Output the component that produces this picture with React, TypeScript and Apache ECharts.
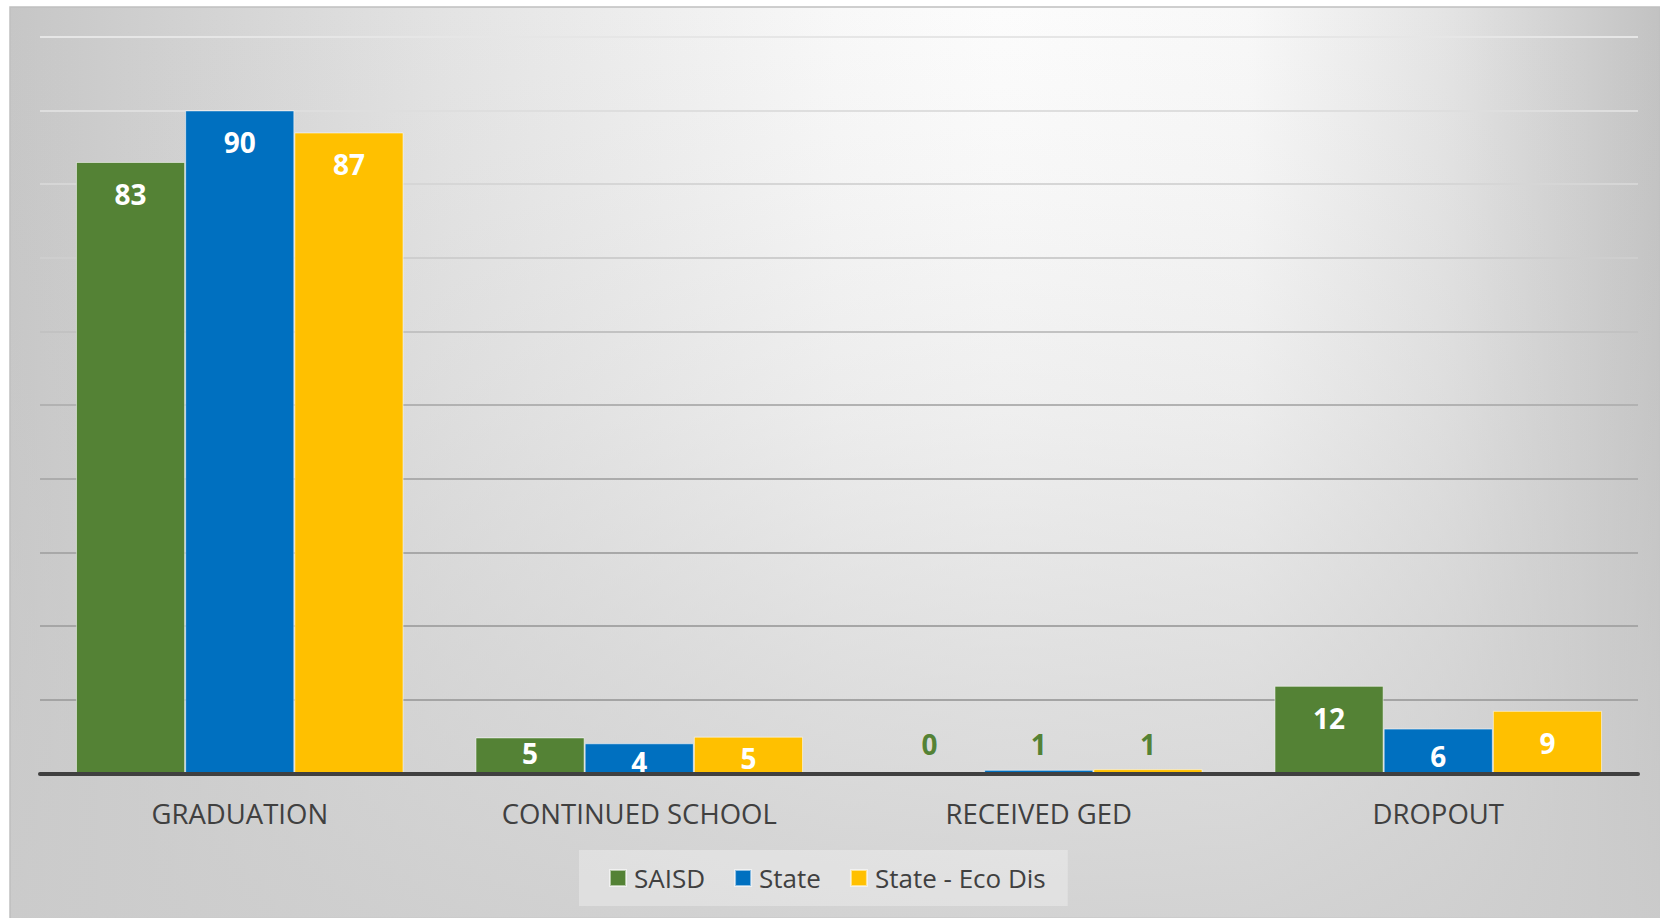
import React, { useEffect, useRef } from "react";
import * as echarts from "echarts";

const categories = ["GRADUATION", "CONTINUED SCHOOL", "RECEIVED GED", "DROPOUT"];
const seriesNames = ["SAISD", "State", "State - Eco Dis"];
const saisd = [83, 4.9, 0, 11.9];
const state = [90, 4.1, 0.5, 6.1];
const stateEcoDis = [87, 5, 0.6, 8.5];
const yMin = 0;
const yMax = 100;
const yStep = 10;

const barColors = ["#548235", "#0070C0", "#FFC000"];
const gridColors = [
  "#a6a6a6", "#a4a4a4", "#a6a6a6", "#a8a8a8", "#acacac", "#b2b2b2",
  "#c2c2c2", "#cecece", "#d6d6d6", "#dedede", "#e6e6e6",
];
// vertical nudges (px) for labels of short bars, keyed "series-category"
const labelNudge: Record<string, number> = { "0-1": -16, "1-1": -13.6, "2-1": -10.4, "1-3": -4.7 };

export default function App() {
  const ref = useRef<HTMLDivElement>(null);
  useEffect(() => {
    if (!ref.current) return;
    const chart = echarts.init(ref.current, undefined, { renderer: "svg" });
    const seriesValues = [saisd, state, stateEcoDis];
    const font = "'Open Sans', 'Noto Sans', sans-serif";
    chart.setOption({
      animation: false,
      backgroundColor: "#ffffff",
      graphic: {
        elements: [
          {
            type: "rect",
            z: -10,
            silent: true,
            shape: { x: 10, y: 7, width: 1650, height: 911 },
            style: {
              fill: {
                type: "linear", x: 0, y: 0, x2: 1, y2: 0,
                colorStops: [
                  { offset: 0, color: "#c6c6c6" },
                  { offset: 0.27, color: "#e4e4e4" },
                  { offset: 0.5, color: "#f8f8f8" },
                  { offset: 0.6, color: "#fcfcfc" },
                  { offset: 0.75, color: "#f8f8f8" },
                  { offset: 0.87, color: "#e4e4e4" },
                  { offset: 1, color: "#c2c2c2" },
                ],
              },
              stroke: "#c0c0c0",
              lineWidth: 1.5,
            },
          },
          {
            type: "rect",
            z: -9,
            silent: true,
            shape: { x: 11, y: 8, width: 1649, height: 910 },
            style: {
              fill: {
                type: "linear", x: 0, y: 0, x2: 0, y2: 1,
                colorStops: [
                  { offset: 0, color: "rgba(204,204,204,0)" },
                  { offset: 0.2, color: "rgba(204,204,204,0.1)" },
                  { offset: 0.45, color: "rgba(204,204,204,0.28)" },
                  { offset: 0.76, color: "rgba(204,204,204,0.62)" },
                  { offset: 1, color: "rgba(204,204,204,0.85)" },
                ],
              },
            },
          },
        ],
      },
      grid: { left: 40, right: 22, top: 36.7, bottom: 144.5, containLabel: false },
      legend: {
        data: seriesNames,
        left: 579,
        top: 850,
        padding: [15, 22, 15, 30],
        backgroundColor: "rgba(255,255,255,0.3)",
        itemWidth: 16,
        itemHeight: 16,
        itemGap: 29,
        icon: "rect",
        textStyle: { color: "#404040", fontSize: 26, fontFamily: font, padding: [0, 0, 0, 3] },
      },
      xAxis: {
        type: "category",
        data: categories,
        z: 5,
        axisLine: { show: true, lineStyle: { color: "#404040", width: 4 } },
        axisTick: { show: false },
        axisLabel: { color: "#404040", fontSize: 27.5, fontFamily: font, margin: 26, interval: 0 },
      },
      yAxis: {
        type: "value",
        min: yMin,
        max: yMax,
        interval: yStep,
        axisLine: { show: false },
        axisTick: { show: false },
        axisLabel: { show: false },
        splitLine: { show: true, lineStyle: { color: gridColors, width: 2 } },
      },
      series: seriesValues.map((vals, si) => ({
        type: "bar",
        name: seriesNames[si],
        barGap: "0%",
        barCategoryGap: "18%",
        itemStyle: { color: barColors[si], borderColor: "rgba(255,255,255,0.55)", borderWidth: 1 },
        label: {
          show: true,
          position: "insideTop",
          distance: 18,
          color: "#ffffff",
          fontFamily: font,
          fontWeight: "bold",
          fontSize: 28,
          lineHeight: 28,
          formatter: (p: any) => String(Math.round(p.value)),
        },
        data: vals.map((v, di) => {
          if (categories[di] === "RECEIVED GED") {
            return { value: v, label: { position: "insideBottom", distance: 16, color: barColors[0] } };
          }
          const dy = labelNudge[`${si}-${di}`];
          return dy ? { value: v, label: { offset: [0, dy] } } : v;
        }),
      })),
    });
    return () => chart.dispose();
  }, []);
  return (
    <div
      ref={ref}
      style={{ position: "fixed", left: 0, top: 0, width: 1660, height: 918 }}
    />
  );
}
